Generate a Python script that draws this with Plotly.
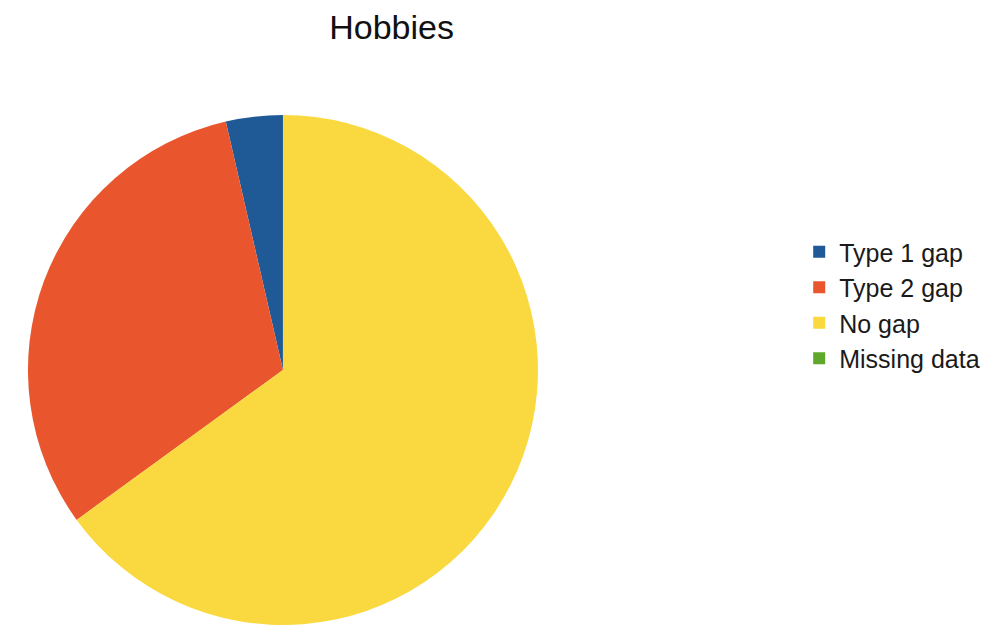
import plotly.graph_objects as go

# Share of respondents per gap category (percent)
categories = ["Type 1 gap", "Type 2 gap", "No gap", "Missing data"]
shares = [3.6, 31.4, 65.0, 0.0]
colors = ["#1F5A96", "#E9562D", "#F9D93F", "#5FA82B"]

# Rotate so the first slice ends at 12 o'clock and the rest run counterclockwise
first_angle = shares[0] / sum(shares) * 360

fig = go.Figure(
    go.Pie(
        labels=categories,
        values=shares,
        sort=False,
        direction="counterclockwise",
        rotation=-first_angle,
        textinfo="none",
        marker=dict(colors=colors, line=dict(width=0)),
        domain=dict(x=[0.028, 0.5385], y=[0.0, 0.816]),
        showlegend=True,
    )
)

fig.update_layout(
    width=999,
    height=625,
    margin=dict(l=0, r=0, t=0, b=0),
    paper_bgcolor="white",
    plot_bgcolor="white",
    font=dict(family="Liberation Sans, Arial, sans-serif", color="#1a1a1a"),
    title=dict(
        text="Hobbies",
        x=0.392,
        xanchor="center",
        y=1 - 27 / 625,
        yanchor="middle",
        font=dict(size=34, color="#111111"),
    ),
    legend=dict(
        x=0.8,
        xanchor="left",
        y=1 - 305 / 625,
        yanchor="middle",
        font=dict(size=25, color="#1a1a1a"),
        traceorder="normal",
    ),
)

fig.write_html("out.html")
